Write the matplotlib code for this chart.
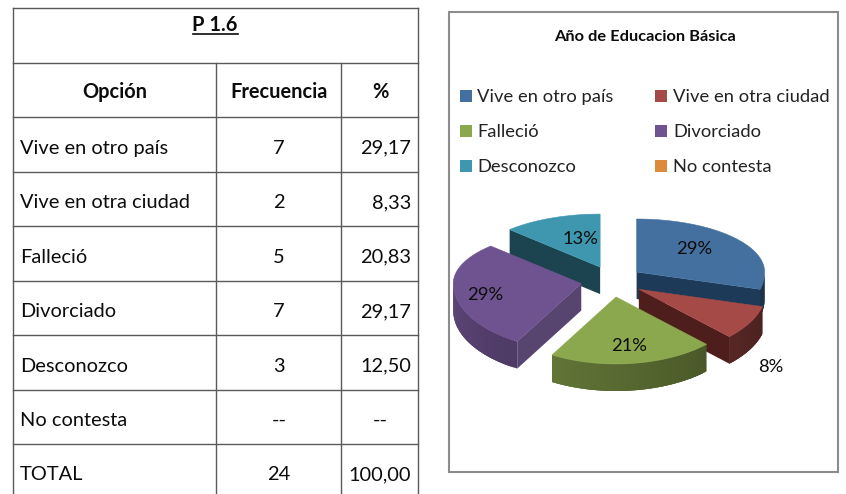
import numpy as np
import matplotlib
matplotlib.use("Agg")
import matplotlib.pyplot as plt
from matplotlib.patches import Polygon, Rectangle
from matplotlib.colors import to_rgb

plt.rcParams['font.family'] = ['Lato', 'DejaVu Sans']

# ---- data ----
table_title = "P 1.6"
headers = ["Opción", "Frecuencia", "%"]
options = ["Vive en otro país", "Vive en otra ciudad", "Falleció", "Divorciado", "Desconozco", "No contesta", "TOTAL"]
freq_labels = ["7", "2", "5", "7", "3", "--", "24"]
pct_labels = ["29,17", "8,33", "20,83", "29,17", "12,50", "--", "100,00"]
chart_title = "Año de Educacion Básica"
series_names = ["Vive en otro país", "Vive en otra ciudad", "Falleció", "Divorciado", "Desconozco", "No contesta"]
series_values = [7, 2, 5, 7, 3, 0]
top_colors = ["#44709F", "#A54A47", "#8CA84E", "#6F5390", "#3E97AE", "#DE8A3C"]
cut_colors = ["#1D3A58", "#4E1E1C", "#4A5B26", "#57456F", "#1B4350", "#7A4A1C"]

fig = plt.figure(figsize=(8.46, 4.94), dpi=100)
ax = fig.add_axes([0, 0, 1, 1])
ax.set_xlim(0, 846)
ax.set_ylim(494, 0)
ax.axis("off")

# ---- table ----
LINE = "#5a5a5a"
col_x = [13, 216, 341, 418]
row_y = [8, 63, 117, 172, 226, 281, 335, 390, 444, 498]
TFS = 14.4
INK = "#0c0c0c"
for y in row_y:
    ax.plot([13, 418], [y, y], color=LINE, lw=1.0)
ax.plot([13, 13], [8, 494], color=LINE, lw=1.0)
ax.plot([418, 418], [8, 494], color=LINE, lw=1.0)
for x in col_x[1:3]:
    ax.plot([x, x], [63, 494], color=LINE, lw=1.0)

ax.text(215, 25, table_title, ha="center", va="center", fontsize=TFS, fontweight="bold", color=INK)
ax.plot([193, 238], [34, 34], color=INK, lw=1.2)
ax.text(115, 92, headers[0], ha="center", va="center", fontsize=TFS, fontweight="bold", color=INK)
ax.text(279, 92, headers[1], ha="center", va="center", fontsize=TFS, fontweight="bold", color=INK)
ax.text(380, 92, headers[2], ha="center", va="center", fontsize=TFS, fontweight="bold", color=INK)
for i, (o, f, p) in enumerate(zip(options, freq_labels, pct_labels)):
    yc = (row_y[i + 2] + row_y[i + 3]) / 2 + 3.5
    ax.text(20, yc, o, ha="left", va="center", fontsize=TFS, color=INK)
    ax.text(279, yc, f, ha="center", va="center", fontsize=TFS, color=INK)
    if p == "--":
        ax.text(380, yc, p, ha="center", va="center", fontsize=TFS, color=INK)
    else:
        ax.text(411, yc, p, ha="right", va="center", fontsize=TFS, color=INK)

# ---- chart frame ----
ax.add_patch(Rectangle((449, 12), 389, 460, fc="white", ec="#8C8C8C", lw=1.5))
ax.text(645, 37, chart_title, ha="center", va="center", fontsize=11.8, fontweight="bold", color=INK)

# ---- legend ----
leg_x = [(460, 477), (655, 673)]
leg_y = [96, 131, 166]
for i, (name, col) in enumerate(zip(series_names, top_colors)):
    bx, tx = leg_x[i % 2]
    y = leg_y[i // 2]
    ax.add_patch(Rectangle((bx, y - 6), 12, 12, fc=col, ec="none"))
    ax.text(tx, y + 0.8, name, ha="left", va="center", fontsize=13.2, color="#222222")

# ---- exploded 3D pie ----
CX, CY = 612, 281.5
RX, RY_BACK, RY_FRONT = 128, 53, 67
EX, EY = 31, 15.6
DEPTH = 27

def rim(theta):
    t = np.radians(theta)
    c = np.cos(t)
    ry = np.where(c >= 0, RY_BACK, RY_FRONT)
    return RX * np.sin(t), -ry * c

def shade(col, f):
    return tuple(min(1, v * f) for v in to_rgb(col))

vals = np.array(series_values, float)
total = vals.sum()
edges = np.concatenate([[0], np.cumsum(vals) / total * 360])
order = [0, 4, 3, 1, 2]  # back to front
for i in order:
    a, b = edges[i], edges[i + 1]
    m = (a + b) / 2
    ax0 = CX + EX * np.sin(np.radians(m))
    ay0 = CY - EY * np.cos(np.radians(m))
    th = np.linspace(a, b, 60)
    rx_, ry_ = rim(th)
    px, py = ax0 + rx_, ay0 + ry_
    z = 3 + order.index(i) * 3
    # cut faces
    if np.cos(np.radians(a - 90)) < -1e-6:
        ax.add_patch(Polygon([(ax0, ay0), (px[0], py[0]), (px[0], py[0] + DEPTH), (ax0, ay0 + DEPTH)],
                             fc=cut_colors[i], ec="none", zorder=z))
    if np.cos(np.radians(b + 90)) < -1e-6:
        ax.add_patch(Polygon([(ax0, ay0), (px[-1], py[-1]), (px[-1], py[-1] + DEPTH), (ax0, ay0 + DEPTH)],
                             fc=cut_colors[i], ec="none", zorder=z))
    # outer wall with gradient: overlapping strips painted in order
    for j in range(len(th) - 1):
        tm = (th[j] + th[j + 1]) / 2
        if 90 <= tm <= 270:
            f = 0.42 + 0.42 * (tm - 90) / 180
            if i == 0:
                f = 0.45
            c = shade(top_colors[i], f)
            k = min(j + 3, len(th) - 1)
            ax.add_patch(Polygon(np.vstack([np.column_stack([px[j:k + 1], py[j:k + 1]]),
                                            np.column_stack([px[j:k + 1], py[j:k + 1] + DEPTH])[::-1]]),
                                 fc=c, ec="none", zorder=z + 1))
    # top face
    ax.add_patch(Polygon(np.vstack([[ax0, ay0], np.column_stack([px, py])]),
                         fc=top_colors[i], ec=top_colors[i], lw=0.4, zorder=z + 2))

label_pos = [(694, 249), (771, 367), (629, 346), (485, 295), (580, 239)]
for v, (lx, ly) in zip(series_values[:5], label_pos):
    ax.text(lx, ly, f"{int(v / total * 100 + 0.5)}%", ha="center", va="center",
            fontsize=13.2, color=INK, zorder=30)

fig.savefig("out.png", dpi=100)
